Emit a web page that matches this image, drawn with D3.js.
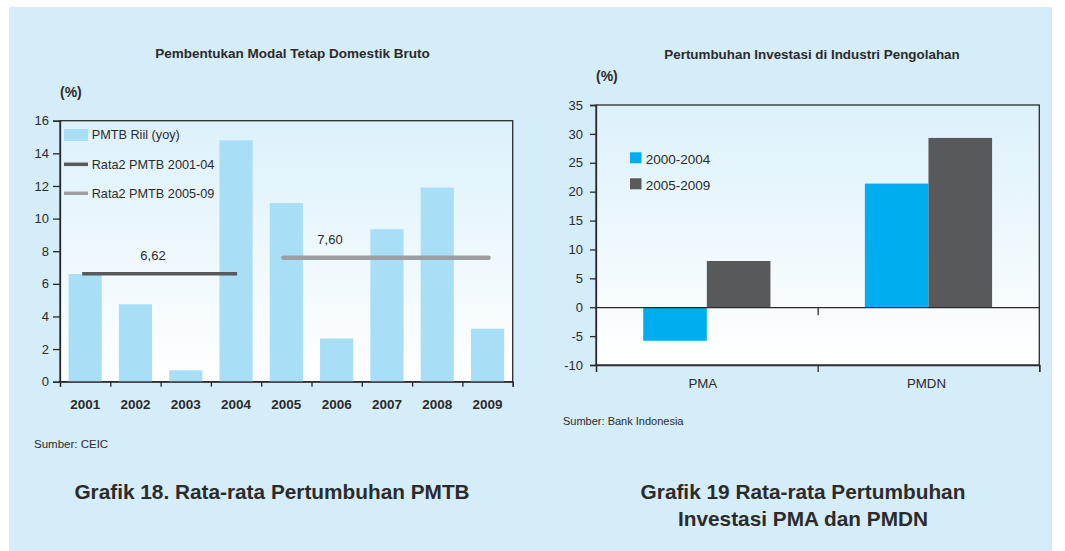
<!DOCTYPE html>
<html>
<head>
<meta charset="utf-8">
<script src="https://cdn.jsdelivr.net/npm/d3@7"></script>
<style>
  html, body { margin: 0; padding: 0; background: #ffffff; }
  svg text { font-family: "Liberation Sans", Arial, sans-serif; fill: #2b2b2b; }
</style>
</head>
<body>
<svg id="chart"></svg>
<script>
// Grafik 18 - PMTB riil (yoy)
const years = ["2001","2002","2003","2004","2005","2006","2007","2008","2009"];
const pmtbRiil = [6.6, 4.75, 0.7, 14.8, 10.95, 2.65, 9.35, 11.9, 3.25];
const leftTicks = [0, 2, 4, 6, 8, 10, 12, 14, 16];
// rata-rata per periode
const avgNames = ["Rata2 PMTB 2001-04", "Rata2 PMTB 2005-09"];
const avgFrom = ["2001", "2005"];
const avgTo = ["2004", "2009"];
const avgValues = [6.62, 7.60];
const avgLabels = ["6,62", "7,60"];

// Grafik 19 - investasi industri pengolahan
const kelompok = ["PMA", "PMDN"];
const periode = ["2000-2004", "2005-2009"];
const growth0004 = [-5.8, 21.4];
const growth0509 = [8.0, 29.3];
const rightTicks = [-10, -5, 0, 5, 10, 15, 20, 25, 30, 35];

const W = 1065, H = 551;
const svg = d3.select("#chart").attr("width", W).attr("height", H);

const defs = svg.append("defs");
const grad = defs.append("linearGradient")
  .attr("id", "plotbg").attr("x1", 0).attr("y1", 0).attr("x2", 0).attr("y2", 1);
grad.append("stop").attr("offset", "0%").attr("stop-color", "#dcf1fb");
grad.append("stop").attr("offset", "100%").attr("stop-color", "#ffffff");

// latar biru
svg.append("rect")
  .attr("x", 9).attr("y", 7).attr("width", 1043).attr("height", 544)
  .attr("fill", "#d5ecf9");

const axisColor = "#2a2a2a";
const tickFont = "13px";
const captionFont = "20.8px";

function styleAxis(g) {
  g.selectAll("path, line").attr("stroke", axisColor).attr("stroke-width", 1.3);
  g.selectAll("text").attr("fill", "#333");
}

// ---------------- Grafik kiri ----------------
{
  const L = { left: 60, right: 512.7, top: 120.7, bottom: 381.7 };
  const g = svg.append("g");

  const x = d3.scaleBand().domain(years).range([L.left, L.right])
    .paddingInner(0.34).paddingOuter(0.17);
  const y = d3.scaleLinear().domain([0, 16]).range([L.bottom, L.top]);
  const xEdge = d3.scaleLinear().domain([0, years.length]).range([L.left, L.right]);

  g.append("rect")
    .attr("x", L.left).attr("y", L.top)
    .attr("width", L.right - L.left).attr("height", L.bottom - L.top)
    .attr("fill", "url(#plotbg)")
    .attr("stroke", axisColor).attr("stroke-width", 1.3);

  g.selectAll("rect.bar")
    .data(pmtbRiil)
    .join("rect")
    .attr("class", "bar")
    .attr("x", (d, i) => x(years[i]))
    .attr("y", d => y(d))
    .attr("width", x.bandwidth())
    .attr("height", d => y(0) - y(d))
    .attr("fill", "#a9def7");

  // garis rata-rata
  const lineColors = ["#58595b", "#9c9ea1"];
  const lineWidths = [3.5, 4.5];
  avgValues.forEach((v, i) => {
    g.append("line")
      .attr("x1", x(avgFrom[i]) + x.bandwidth() / 2 - 3)
      .attr("x2", x(avgTo[i]) + x.bandwidth() / 2 + 1)
      .attr("y1", y(v)).attr("y2", y(v))
      .attr("stroke", lineColors[i])
      .attr("stroke-width", lineWidths[i])
      .attr("stroke-linecap", i === 1 ? "round" : "butt");
  });
  g.append("text").attr("x", 153).attr("y", 260)
    .attr("text-anchor", "middle").style("font-size", tickFont).text(avgLabels[0]);
  g.append("text").attr("x", 330).attr("y", 244)
    .attr("text-anchor", "middle").style("font-size", tickFont).text(avgLabels[1]);

  // sumbu y
  const ya = g.append("g")
    .attr("transform", `translate(${L.left},0)`)
    .call(d3.axisLeft(y).tickValues(leftTicks).tickSize(7).tickPadding(4));
  ya.selectAll("text").style("font-size", tickFont);
  styleAxis(ya);

  // sumbu x: tanda di batas kategori
  const xt = g.append("g")
    .attr("transform", `translate(0,${L.bottom})`)
    .call(d3.axisBottom(xEdge).ticks(years.length).tickSize(5).tickFormat(""));
  styleAxis(xt);
  const xl = g.append("g")
    .attr("transform", `translate(0,${L.bottom})`)
    .call(d3.axisBottom(x).tickSize(0).tickPadding(18));
  xl.select(".domain").remove();
  xl.selectAll("text").style("font-size", "13.5px").style("font-weight", "bold").attr("fill", "#2b2b2b");

  // legenda
  g.append("rect").attr("x", 64).attr("y", 129).attr("width", 24).attr("height", 12)
    .attr("fill", "#a9def7");
  g.append("line").attr("x1", 64).attr("x2", 88).attr("y1", 164.3).attr("y2", 164.3)
    .attr("stroke", lineColors[0]).attr("stroke-width", 3.5);
  g.append("line").attr("x1", 64).attr("x2", 88).attr("y1", 193.3).attr("y2", 193.3)
    .attr("stroke", lineColors[1]).attr("stroke-width", 3.5);
  const legendNames = ["PMTB Riil (yoy)"].concat(avgNames);
  legendNames.forEach((t, i) => {
    g.append("text").attr("x", 91.7).attr("y", 135 + i * 29.2)
      .attr("dy", "0.35em").style("font-size", "12.7px").text(t);
  });

  // judul
  g.append("text").attr("x", 292.5).attr("y", 53).attr("dy", "0.35em")
    .attr("text-anchor", "middle").style("font-size", "13.5px").style("font-weight", "bold")
    .text("Pembentukan Modal Tetap Domestik Bruto");
  g.append("text").attr("x", 60).attr("y", 92).attr("dy", "0.35em")
    .style("font-size", "14px").style("font-weight", "bold").text("(%)");
  g.append("text").attr("x", 34).attr("y", 444).attr("dy", "0.35em")
    .style("font-size", "11.5px").attr("fill", "#444").text("Sumber: CEIC");
  g.append("text").attr("x", 272).attr("y", 492).attr("dy", "0.35em")
    .attr("text-anchor", "middle").style("font-size", captionFont).style("font-weight", "bold")
    .text("Grafik 18. Rata-rata Pertumbuhan PMTB");
}

// ---------------- Grafik kanan ----------------
{
  const R = { left: 596, right: 1039.3, top: 105, bottom: 365 };
  const g = svg.append("g");

  const y = d3.scaleLinear().domain([-10, 35]).range([R.bottom, R.top]);
  const x0 = d3.scaleBand().domain(kelompok).range([R.left, R.right])
    .paddingInner(0.426).paddingOuter(0.213);
  const x1 = d3.scaleBand().domain(periode).range([0, x0.bandwidth()]);
  const xEdge = d3.scaleLinear().domain([0, kelompok.length]).range([R.left, R.right]);
  const colors = d3.scaleOrdinal().domain(periode).range(["#00aeef", "#58595b"]);

  g.append("rect")
    .attr("x", R.left).attr("y", R.top)
    .attr("width", R.right - R.left).attr("height", R.bottom - R.top)
    .attr("fill", "url(#plotbg)")
    .attr("stroke", axisColor).attr("stroke-width", 1.3);

  const series = [growth0004, growth0509];
  series.forEach((vals, s) => {
    g.selectAll("rect.s" + s)
      .data(vals)
      .join("rect")
      .attr("class", "s" + s)
      .attr("x", (d, i) => x0(kelompok[i]) + x1(periode[s]))
      .attr("y", d => y(Math.max(0, d)))
      .attr("width", x1.bandwidth())
      .attr("height", d => Math.abs(y(d) - y(0)))
      .attr("fill", colors(periode[s]));
  });

  // garis nol dengan tanda di tengah
  const zero = g.append("g")
    .attr("transform", `translate(0,${y(0)})`)
    .call(d3.axisBottom(xEdge).tickValues([1]).tickSize(8).tickFormat("").tickSizeOuter(0));
  styleAxis(zero);

  const ya = g.append("g")
    .attr("transform", `translate(${R.left},0)`)
    .call(d3.axisLeft(y).tickValues(rightTicks).tickSize(6).tickPadding(7)
      .tickFormat(d => String(d)));
  ya.selectAll("text").style("font-size", tickFont);
  styleAxis(ya);

  const xt = g.append("g")
    .attr("transform", `translate(0,${R.bottom})`)
    .call(d3.axisBottom(xEdge).ticks(kelompok.length).tickSize(7).tickFormat(""));
  styleAxis(xt);
  const xl = g.append("g")
    .attr("transform", `translate(0,${R.bottom})`)
    .call(d3.axisBottom(x0).tickSize(0).tickPadding(14));
  xl.select(".domain").remove();
  xl.selectAll("text").style("font-size", "13.3px").attr("fill", "#333")
    .attr("dx", d => d === "PMA" ? -4 : -2);

  // legenda
  periode.forEach((p, i) => {
    g.append("rect").attr("x", 630).attr("y", 152.3 + i * 26)
      .attr("width", 11.5).attr("height", 11).attr("fill", colors(p));
    g.append("text").attr("x", 645.7).attr("y", 159 + i * 26).attr("dy", "0.35em")
      .style("font-size", "13.5px").text(p);
  });

  g.append("text").attr("x", 812).attr("y", 54).attr("dy", "0.35em")
    .attr("text-anchor", "middle").style("font-size", "13.4px").style("font-weight", "bold")
    .text("Pertumbuhan Investasi di Industri Pengolahan");
  g.append("text").attr("x", 596).attr("y", 76).attr("dy", "0.35em")
    .style("font-size", "14px").style("font-weight", "bold").text("(%)");
  g.append("text").attr("x", 563).attr("y", 421).attr("dy", "0.35em")
    .style("font-size", "11px").attr("fill", "#444").text("Sumber: Bank Indonesia");
  g.append("text").attr("x", 803).attr("y", 492).attr("dy", "0.35em")
    .attr("text-anchor", "middle").style("font-size", captionFont).style("font-weight", "bold")
    .text("Grafik 19 Rata-rata Pertumbuhan");
  g.append("text").attr("x", 803).attr("y", 519).attr("dy", "0.35em")
    .attr("text-anchor", "middle").style("font-size", captionFont).style("font-weight", "bold")
    .text("Investasi PMA dan PMDN");
}
</script>
</body>
</html>
